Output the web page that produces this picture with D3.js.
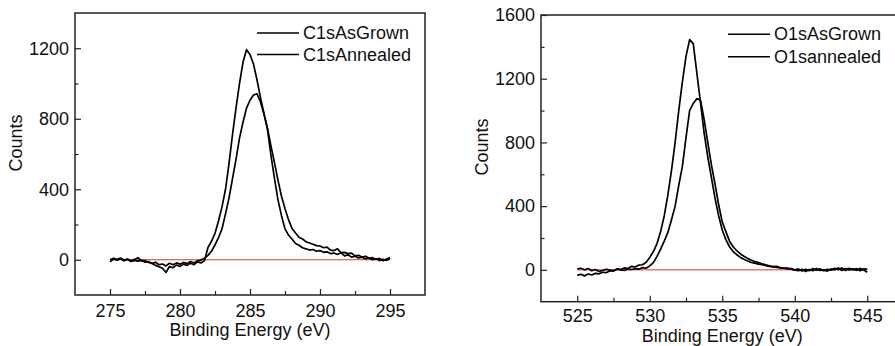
<!DOCTYPE html>
<html>
<head>
<meta charset="utf-8">
<script src="https://cdn.jsdelivr.net/npm/d3@7"></script>
<style>
  body { margin: 0; background: #fff; }
  svg { display: block; font-family: "Liberation Sans", Arial, sans-serif; }
  .frame { fill: none; stroke: #222; stroke-width: 1.5; }
  .tick line { stroke: #222; stroke-width: 1.2; }
  .tick text { font-size: 18px; fill: #111; }
  .curve { fill: none; stroke: #000; stroke-width: 1.7; stroke-linejoin: round; }
  .zero { stroke: #e8302f; stroke-width: 1; }
  .title { font-size: 18px; fill: #111; }
  .legend text { font-size: 18px; fill: #111; }
  .legend line { stroke: #000; stroke-width: 1.5; }
</style>
</head>
<body>
<svg width="895" height="346"></svg>
<script>
// C1s spectra, 275 .. 295 eV, step 0.25 eV
var c1sEnergy = d3.range(0, 81).map(function(i) { return 275 + i * 0.25; });
var c1sAsGrown = [
  0, 8, 3, 10, -2, 4, -6, 2, 12, -8, -5, -15, -20, -32, -40, -48, -72, -38, -45, -30,
  -38, -25, -32, -20, -28, -12, -18, -5, 70, 105, 150, 220, 300, 400, 545, 710, 860, 1000, 1120, 1192,
  1165, 1110, 1020, 920, 830, 740, 590, 460, 340, 250, 175, 140, 118, 92, 82, 68, 62, 55, 58, 48,
  52, 42, 45, 35, 38, 30, 40, 22, 28, 15, 20, 10, 14, 5, 10, 0, 6, -5, 3, -4,
  8
];
var c1sAnnealed = [
  -12, 4, -2, 6, -6, 2, -10, -4, -8, -2, -14, -10, -22, -14, -28, -24, -35, -20, -28, -18,
  -25, -15, -22, -10, -18, -6, -2, 8, 25, 48, 85, 125, 175, 260, 350, 460, 570, 690, 780, 860,
  905, 935, 942, 895, 825, 745, 645, 550, 450, 360, 290, 228, 178, 152, 128, 118, 102, 95, 88, 80,
  78, 68, 72, 55, 52, 62, 40, 42, 35, 38, 22, 25, 15, 20, 8, 12, 2, 8, -6, 4,
  12
];

// O1s spectra, 525 .. 545 eV, step 0.25 eV
var o1sEnergy = d3.range(0, 81).map(function(i) { return 525 + i * 0.25; });
var o1sAsGrown = [
  -35, -28, -38, -26, -32, -22, -25, -15, -18, -5, -8, 5, 2, 12, 8, 22, 18, 30, 32, 48,
  78, 115, 165, 240, 340, 470, 625, 800, 1000, 1180, 1340, 1445, 1420, 1235, 1050, 860, 710, 580, 450, 340,
  250, 190, 145, 115, 95, 78, 66, 55, 46, 42, 35, 32, 26, 22, 18, 15, 12, 10, 6, 8,
  0, -6, 4, -10, 2, -6, 8, -4, 0, -8, 6, 0, 12, -4, 8, 0, 6, -3, 9, 0,
  -15
];
var o1sAnnealed = [
  6, 10, 0, 8, -6, 2, -10, -4, 4, -2, -6, 6, 0, -4, 5, 2, 8, 4, 14, 10,
  25, 45, 85, 130, 180, 235, 315, 400, 530, 650, 830, 1000, 1045, 1075, 1065, 945, 800, 660, 540, 410,
  300, 240, 180, 145, 120, 100, 85, 72, 60, 52, 45, 38, 32, 26, 20, 22, 14, 10, 12, 4,
  -2, 6, -8, 4, -5, 8, -2, 6, -6, 4, -2, 10, 2, 12, -4, 10, 0, 8, -6, 6,
  5
];

var c1sLegend = ["C1sAsGrown", "C1sAnnealed"];
var o1sLegend = ["O1sAsGrown", "O1sannealed"];
var c1sXTicks = [275, 280, 285, 290, 295], c1sXMinor = [277.5, 282.5, 287.5, 292.5];
var o1sXTicks = [525, 530, 535, 540, 545], o1sXMinor = [527.5, 532.5, 537.5, 542.5];
var c1sYTicks = [0, 400, 800, 1200], c1sYMinor = [200, 600, 1000];
var o1sYTicks = [0, 400, 800, 1200, 1600], o1sYMinor = [200, 600, 1000, 1400];

var svg = d3.select("svg");

function drawPanel(p) {
    var g = svg.append("g");
    var x = d3.scaleLinear().domain(p.xDomain).range([p.left, p.right]);
    var y = d3.scaleLinear().domain(p.yDomain).range([p.bottom, p.top]);

    // minor ticks first
    g.append("g")
        .attr("transform", "translate(0," + p.bottom + ")")
        .call(d3.axisBottom(x).tickValues(p.xMinor).tickSize(-4).tickFormat(""))
        .select(".domain").remove();
    g.append("g")
        .attr("transform", "translate(" + p.left + ",0)")
        .call(d3.axisLeft(y).tickValues(p.yMinor).tickSize(-3.5).tickFormat(""))
        .select(".domain").remove();

    // major ticks, pointing inside
    g.append("g")
        .attr("transform", "translate(0," + p.bottom + ")")
        .call(d3.axisBottom(x).tickValues(p.xTicks).tickSize(-6).tickPadding(p.xPad).tickFormat(d3.format("d")))
        .select(".domain").remove();
    g.append("g")
        .attr("transform", "translate(" + p.left + ",0)")
        .call(d3.axisLeft(y).tickValues(p.yTicks).tickSize(-6).tickPadding(p.yPad).tickFormat(d3.format("d")))
        .select(".domain").remove();
    g.selectAll(".tick text").attr("font-family", null).attr("font-size", null);

    // zero line
    g.append("line")
        .attr("class", "zero")
        .attr("x1", x(p.xTicks[0])).attr("x2", x(p.xTicks[p.xTicks.length - 1]))
        .attr("y1", y(0)).attr("y2", y(0));

    var line = d3.line()
        .x(function(d) { return x(d[0]); })
        .y(function(d) { return y(d[1]); });

    p.series.forEach(function(s) {
        g.append("path")
            .attr("class", "curve")
            .attr("d", line(d3.zip(p.energy, s)));
    });

    g.append("rect")
        .attr("class", "frame")
        .attr("x", p.left).attr("y", p.top)
        .attr("width", p.right - p.left).attr("height", p.bottom - p.top);

    // legend
    var lg = g.append("g").attr("class", "legend");
    p.legend.forEach(function(name, i) {
        var ly = p.legendY[i];
        lg.append("line")
            .attr("x1", p.legendX).attr("x2", p.legendX + 42)
            .attr("y1", ly).attr("y2", ly);
        lg.append("text")
            .attr("x", p.legendX + 46).attr("y", ly + 6)
            .text(name);
    });

    // axis titles
    g.append("text")
        .attr("class", "title")
        .attr("text-anchor", "middle")
        .attr("x", x((p.xTicks[0] + p.xTicks[p.xTicks.length - 1]) / 2))
        .attr("y", p.xTitleY)
        .text("Binding Energy (eV)");
    g.append("text")
        .attr("class", "title")
        .attr("text-anchor", "middle")
        .attr("transform", "translate(" + p.yTitleX + "," + p.yTitleY + ") rotate(-90)")
        .text("Counts");
}

drawPanel({
    xDomain: [272.5, 297.5], yDomain: [-200, 1400],
    left: 75, right: 425, top: 13, bottom: 295,
    xTicks: c1sXTicks, xMinor: c1sXMinor, yTicks: c1sYTicks, yMinor: c1sYMinor,
    xPad: 9, yPad: 6,
    energy: c1sEnergy, series: [c1sAsGrown, c1sAnnealed],
    legend: c1sLegend, legendX: 257, legendY: [33, 54.5],
    xTitleY: 336, yTitleX: 21.5, yTitleY: 143
});

drawPanel({
    xDomain: [522.5, 547.5], yDomain: [-200, 1600],
    left: 541, right: 903.5, top: 15, bottom: 301.7,
    xTicks: o1sXTicks, xMinor: o1sXMinor, yTicks: o1sYTicks, yMinor: o1sYMinor,
    xPad: 8, yPad: 6,
    energy: o1sEnergy, series: [o1sAsGrown, o1sAnnealed],
    legend: o1sLegend, legendX: 728, legendY: [34.3, 56.7],
    xTitleY: 342, yTitleX: 488, yTitleY: 147
});
</script>
</body>
</html>
